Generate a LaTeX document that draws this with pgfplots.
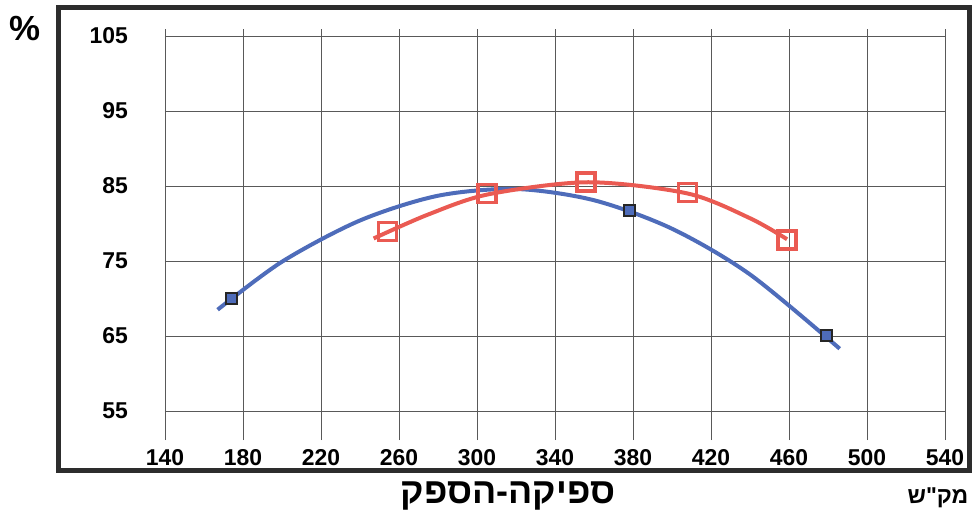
\documentclass[border=0pt]{standalone}
\usepackage{pgfplots}
\pgfplotsset{compat=1.18}
\usepackage{fontspec}
\setmainfont{Liberation Sans}
\newfontfamily\hebfont[Script=Hebrew]{Liberation Sans}
\TeXXeTstate=1
\definecolor{bl}{RGB}{78,108,186}
\definecolor{rd}{RGB}{234,90,82}
\definecolor{fr}{RGB}{45,45,45}
\begin{document}
\begin{tikzpicture}
\begin{axis}[name=ax, scale only axis, width=780bp, height=411bp,
 xmin=140, xmax=540, ymin=51.12, ymax=105.94,
 xtick={140,180,...,540}, ytick={55,65,...,105},
 grid=major, major grid style={draw=black!65, line width=0.7bp},
 axis line style={draw=none}, major tick length=0pt,
 tick label style={font=\fontsize{23}{23}\selectfont\bfseries, inner sep=0pt},
 /pgf/number format/assume math mode=true,
 yticklabel style={anchor=east}, yticklabel shift=37bp,
 xticklabel style={anchor=north}, xticklabel shift=9bp,
]
\addplot[bl, line width=4bp, smooth, no marks] coordinates {(167,68.5) (200,74.9) (240,80.4) (280,83.7) (320,84.6) (360,83.1) (400,79.3) (440,73.2) (486,63.3)};
\addplot[only marks, mark=square*, mark size=5.5bp, mark options={draw=black!85, fill=bl, line width=2bp}] coordinates {(174,70) (378,81.7) (479,65)};
\addplot[rd, line width=4bp, smooth, no marks] coordinates {(247,78.0) (275,81.2) (306,83.9) (357,85.5) (408,84.0) (440,80.7) (459,77.9)};
\addplot[only marks, mark=square, mark size=9bp, mark options={draw=rd, line width=3.5bp}] coordinates {(254,78.9) (305,84.0) (356,85.5) (408,84.1) (459,77.8)};
\end{axis}
\draw[fr, line width=5bp] ([shift={(-106.5bp,-30.5bp)}]ax.south west) rectangle ([shift={(804.5bp,432bp)}]ax.south west);
\node[font=\fontsize{35}{35}\selectfont\bfseries] at ([shift={(-140bp,411bp)}]ax.south west) {\%};
\node[anchor=base, font=\fontsize{36}{36}\selectfont\bfseries\hebfont] at ([shift={(343bp,-63bp)}]ax.south west) {\beginR ספיקה-הספק\endR};
\node[anchor=base, font=\fontsize{23}{23}\selectfont\bfseries\hebfont] at ([shift={(773bp,-63bp)}]ax.south west) {\beginR מק"ש\endR};
\pgfresetboundingbox
\useasboundingbox ([shift={(-165bp,-75bp)}]ax.south west) rectangle ([shift={(808bp,440bp)}]ax.south west);
\end{tikzpicture}
\end{document}
